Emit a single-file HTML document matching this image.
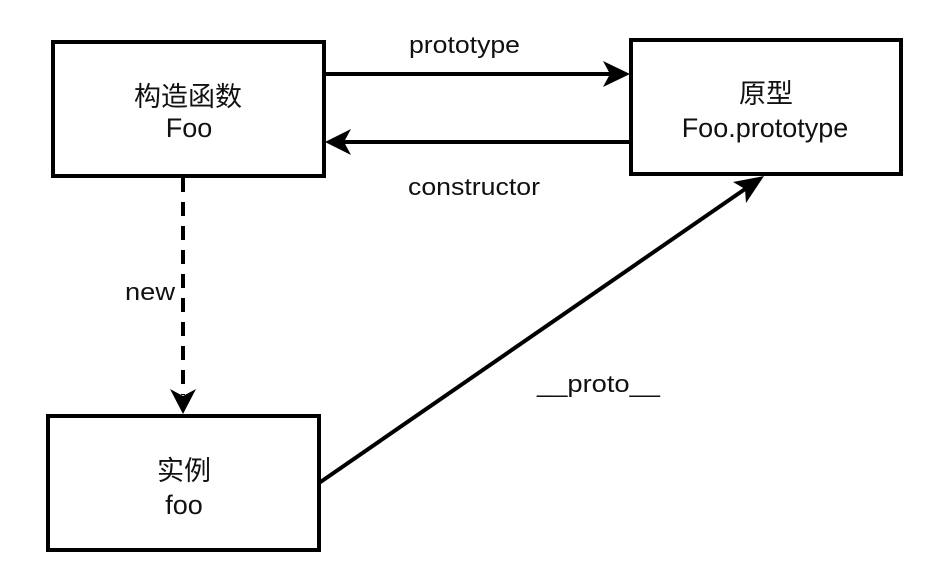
<!DOCTYPE html>
<html><head><meta charset="utf-8"><style>
html,body{margin:0;padding:0;background:#fff;width:926px;height:568px;overflow:hidden}
text{font-family:"Liberation Sans","Noto Sans CJK SC",sans-serif;font-size:24px;fill:#111}
.b{font-size:27px}
</style></head><body>
<svg width="926" height="568" viewBox="0 0 926 568" xmlns="http://www.w3.org/2000/svg">
<g fill="none" stroke="#000" stroke-width="4">
<rect x="53" y="42" width="271" height="134"/>
<rect x="631" y="40" width="270" height="134"/>
<rect x="48" y="416" width="271" height="134"/>
<line x1="324" y1="74" x2="612" y2="74"/>
<line x1="631" y1="142" x2="342" y2="142"/>
<line x1="183" y1="178" x2="183" y2="395" stroke-dasharray="14,10"/>
<line x1="319" y1="483" x2="748" y2="187"/>
</g>
<g fill="#000">
<polygon points="630,74 603,61 610,74 603,87"/>
<polygon points="325,142 351,129 344,142 351,155"/>
<polygon points="183,414 170,389 183,396 196,389"/>
<polygon points="764,176 733,182 745,189 746,203"/>
</g>
<g text-anchor="middle" class="b">
<text class="b" x="188" y="106">构造函数</text>
<text class="b" x="189" y="137">Foo</text>
<text class="b" x="766" y="103">原型</text>
<text class="b" x="765" y="137">Foo.prototype</text>
<text class="b" x="184" y="480">实例</text>
<text class="b" x="184" y="514">foo</text>
</g>
<text x="409" y="53" textLength="111" lengthAdjust="spacingAndGlyphs">prototype</text>
<text x="408" y="195" textLength="132" lengthAdjust="spacingAndGlyphs">constructor</text>
<text x="125" y="300" textLength="50" lengthAdjust="spacingAndGlyphs">new</text>
<text x="537" y="392" textLength="123" lengthAdjust="spacingAndGlyphs">__proto__</text>
</svg>
</body></html>
